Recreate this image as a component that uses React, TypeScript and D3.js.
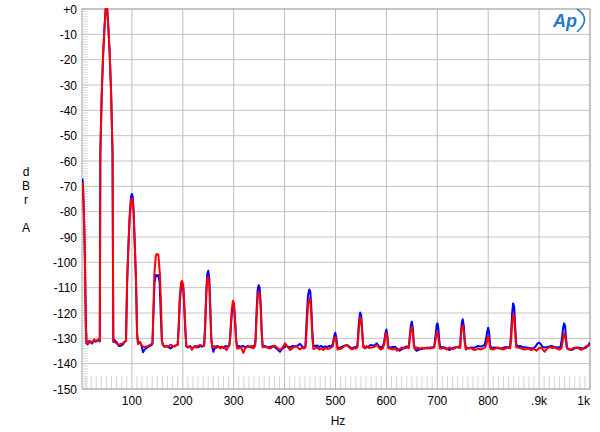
import React from "react";
import * as d3 from "d3";

const W = 600;
const H = 432;

const yTicks = [0, -10, -20, -30, -40, -50, -60, -70, -80, -90, -100, -110, -120, -130, -140, -150];
const yTickLabels = ["+0", "-10", "-20", "-30", "-40", "-50", "-60", "-70", "-80", "-90", "-100", "-110", "-120", "-130", "-140", "-150"];
const xTicks = [100, 200, 300, 400, 500, 600, 700, 800, 900, 1000];
const xTickLabels = ["100", "200", "300", "400", "500", "600", "700", "800", ".9k", "1k"];
const yLabelLetters = ["d", "B", "r", "", "A"];

const blueSeries: [number, number][] = [
  [3,-67],[4,-70],[5,-76],[6.5,-86],[8,-102],[9.5,-124],[11,-132],
  [13,-132.4],[16,-131.5],[19,-131.6],[22,-132],[26,-130.8],[29,-131.3],[32,-131],[35,-130.6],[37,-131.2],
  [38,-57],[40.7,-34],[43.5,-18],[46,-8],[48.5,0],[51.5,0],[54,-8],[56.5,-18],[59.3,-34],[62,-57],
  [63.5,-131.4],[66,-130.7],[70,-131.5],[74,-133],[78,-133],[82,-132.5],[86,-131.3],[88,-131],
  [88.5,-131],[90.6,-108],[93.5,-92],[95.8,-81],[98.4,-74],[100,-73],[101.6,-74],[103.5,-80],[105.5,-92],[108.2,-108],[110.2,-128],[112,-132],
  [116,-131.5],[119,-133],[122,-135.5],[125,-134.4],[128,-134],[132,-133.4],[136,-133],[139,-132.6],
  [140.5,-132],[142,-122],[144.5,-108],[147,-105],[149,-105.5],[152,-105],[154.5,-108],[157,-122],[159,-131],[161,-132.6],
  [164,-133.4],[168,-133],[172,-133.6],[176,-134],[180,-133.2],[184,-133],[187,-132.8],
  [190,-132.5],[192,-126],[194,-116],[196.5,-110],[198.5,-109],[201,-110.5],[203,-118],[205,-127],[207,-133.2],
  [210,-133.6],[214,-133],[218,-134],[222,-133.4],[226,-133],[230,-133.6],[234,-133],[238,-133.3],
  [242,-132.5],[244,-124],[246,-112],[248,-104.5],[250,-103.3],[252,-106],[254,-117],[256,-130],[258,-133.5],
  [260,-135.3],[264,-133.4],[268,-133],[272,-133.6],[276,-133.3],[280,-133.8],[284,-133],[288,-133.4],[291,-133],
  [293,-130],[295,-124],[297,-118.5],[299,-116.9],[301,-118],[303,-124],[305,-131],[307,-133.4],
  [310,-133],[314,-133.3],[319,-133],[323,-133.6],[327,-133],[331,-133.3],[335,-133.6],[339,-133],[342,-132.6],
  [343,-130],[345,-119],[347,-111],[349,-109],[351,-110],[353,-116],[355,-127],[357,-133.3],
  [361,-133],[366,-133.6],[372,-133.3],[378,-133],[384,-134],[391,-135.3],[396,-134],[401,-133.4],[404,-133],[410,-133.6],[416,-133],[422,-133.3],[426,-132.8],[430,-132.2],[434,-133],[438,-134],[441,-133],
  [442,-128],[444,-120],[446,-113],[448.5,-110.7],[450.5,-111.5],[452.5,-118],[454.5,-127],[456.5,-133],
  [460,-133],[464,-132.8],[468,-133.4],[472,-133],[476,-133.6],[480,-133.2],[484,-133.4],[488,-133],[492,-133.2],
  [495,-132],[497.5,-129],[499.5,-127.8],[501.5,-129.5],[504,-133.6],
  [508,-133.8],[512,-133.4],[517,-133],[522,-132.6],[527,-133.2],[532,-134],[536,-133.6],[540,-133.4],[543,-133],
  [544,-130],[546,-123.5],[548.5,-119.8],[550.5,-121],[552.5,-127],[554.5,-133],
  [558,-133.4],[562,-133.6],[566,-133],[570,-132.6],[575,-133],[581,-132],[585,-133],[589,-133.6],[593,-133.3],
  [596,-131],[598,-128],[600,-126.5],[602,-129],[604,-133.5],
  [608,-133.6],[612,-133.4],[617,-133.3],[621,-134],[626,-134.9],[630,-134.4],[635,-133.6],[640,-133.2],[644,-133.6],
  [646,-129],[648,-125],[650,-123.4],[652,-126],[654,-132],[656,-134],
  [659,-134.9],[664,-134.4],[668,-134.2],[672,-134],[677,-133.8],[682,-134],[686,-133.6],[690,-133.6],[694,-133.4],
  [697,-128],[699,-124.5],[700.5,-124.1],[702,-126],[704,-131],[706,-133.6],
  [710,-133.4],[714,-133.6],[718,-134],[724,-134.6],[729,-134],[734,-133.6],[738,-133.4],[742,-133.6],[745,-133.2],
  [746,-129],[748,-124],[750,-122.5],[752,-125],[754,-131],[756,-133.6],
  [760,-133.8],[764,-134],[768,-133.6],[772,-133.8],[776,-133.4],[780,-133],[785,-133.2],[789,-133],[793,-132.6],
  [796,-130],[798,-127.5],[800,-125.8],[802,-128],[804,-133],
  [808,-133.8],[813,-133.6],[818,-133.8],[822,-134],[826,-134],[831,-133.6],[836,-133.4],[840,-133.6],[843,-133.2],
  [845,-128],[847,-120],[849,-116.2],[851,-117.5],[853,-125],[855,-132],[857,-133.2],
  [862,-133],[868,-133.4],[875,-133.6],[881,-133.8],[888,-134],[893,-133.2],[897,-132],[900,-131.7],[903,-132.2],[907,-133.4],[911,-133.6],[916,-133.4],[920,-133.2],[924,-133],[930,-133.4],[937,-133.6],[942,-133.4],
  [945,-130],[947,-126],[949,-124.1],[951,-125],[953,-130],[955,-134],
  [959,-134.4],[963,-134.6],[968,-134.2],[972,-133.8],[976,-133.6],[981,-133.8],[985,-134],[989,-134],[993,-133.6],[997,-132.6],[1000,-131.7],
];

const redSeries: [number, number][] = [
  [3,-68.5],[4,-71],[5,-77],[6.5,-87],[8,-103],[9.5,-125],[11,-132],
  [13,-132],[16,-131],[19,-131.2],[22,-131.7],[26,-130.4],[29,-131],[32,-130.7],[35,-130.2],[37,-131],
  [38,-57],[40.7,-34],[43.5,-18],[46,-8],[48.5,0],[51.5,0],[54,-8],[56.5,-18],[59.3,-34],[62,-57],
  [63.5,-131],[66,-131.5],[70,-132],[74,-132.6],[78,-132.2],[82,-132],[86,-131.3],[88,-131],
  [88.5,-131],[90.6,-108],[93.5,-92],[95.8,-82],[98.4,-75.5],[100,-74.8],[101.6,-75.2],[103.5,-81],[105.5,-92],[108.2,-108],[110.2,-128],[112,-132.2],
  [116,-131.6],[120,-133],[124,-133.5],[128,-133.2],[132,-133],[136,-132.6],[139,-132],
  [140.5,-132],[141.5,-125],[144,-105],[147,-97.5],[149,-96.7],[152,-97],[155,-104.5],[157.5,-118],[159,-131],[161,-132.6],
  [164,-133.2],[168,-133],[172,-133.3],[176,-132.5],[180,-133],[184,-133.2],[187,-132.6],
  [190,-132.5],[192,-125],[194,-114],[196.5,-108],[198.5,-107.3],[201,-109],[203,-117],[205,-126],[207,-133],
  [210,-133.3],[214,-133.2],[218,-134.5],[222,-133.2],[226,-133.6],[230,-133],[234,-132.6],[238,-133],
  [242,-133],[244,-126],[246,-114],[248,-106.5],[250,-105.7],[252,-109],[254,-120],[256,-131],[258,-133.5],
  [262,-133],[266,-133.8],[270,-133.2],[274,-134],[278,-133.4],[282,-133.8],[286,-134.6],[290,-133],
  [292,-132.6],[294,-126],[296,-119],[298.5,-115.2],[300.5,-116],[302.5,-122],[304.5,-130],[306.5,-134],
  [310,-134],[314,-133.5],[319,-135.7],[323,-133.8],[327,-133.2],[331,-133.4],[335,-133],[339,-134],[342,-133],
  [343,-131],[345,-122],[347,-114],[349,-111.6],[351,-112],[353,-118],[355,-128],[357,-133.5],
  [361,-133.3],[366,-133.6],[372,-134],[377,-133.2],[381,-132.9],[386,-133.8],[391,-134.6],[396,-133.6],[401,-132],[406,-133.4],[411,-134.6],[416,-133.8],[421,-133],[426,-133.6],[430,-134.4],[434,-133.6],[438,-134],[441,-133.5],
  [442,-131],[444,-124],[446,-117],[448.5,-114.2],[450.5,-115],[452.5,-121],[454.5,-130],[456.5,-134.2],
  [460,-134],[464,-133.6],[468,-134.4],[472,-134],[476,-134.6],[480,-133.8],[484,-134.2],[488,-134],[492,-133.6],
  [495,-133],[497.5,-130],[499.5,-129.4],[501.5,-131],[504,-134.4],
  [508,-134.2],[512,-134],[517,-133.2],[522,-132.6],[527,-133.6],[532,-134.4],[536,-134],[540,-134],[543,-133.6],
  [544,-131.5],[546,-126],[548.5,-121.7],[550.5,-122.5],[552.5,-128],[554.5,-133.5],
  [558,-134],[561,-133],[566,-133.8],[571,-133.6],[576,-133.4],[581,-132.6],[585,-133.6],[589,-134.4],[593,-134],
  [596,-132],[598,-129],[600,-127.8],[602,-130],[604,-134],
  [608,-134],[613,-134.4],[617,-134],[621,-134.9],[625,-134.4],[630,-133.6],[635,-134],[640,-133.6],[644,-133.8],
  [646,-130],[648,-126.5],[650,-125.4],[652,-128],[654,-133],[656,-134.4],
  [660,-133.6],[665,-134],[670,-133.8],[675,-134],[680,-133.6],[685,-134],[690,-133.8],[694,-133.6],
  [697,-130],[699,-127.4],[701,-128],[703,-131],[705,-134],
  [709,-134],[714,-133.8],[718,-134.4],[724,-133.6],[729,-134.2],[734,-134],[738,-133.4],[742,-133.2],[745,-133.8],
  [746,-130],[748,-126],[750,-124.8],[752,-127],[754,-132],[756,-134.4],
  [760,-134],[765,-133.6],[770,-134.4],[775,-134.6],[780,-134],[785,-134.4],[790,-134],[794,-133.6],
  [797,-132],[799,-129.5],[800.5,-129.1],[802,-131],[804,-134],
  [809,-134.4],[814,-134],[819,-133.6],[824,-134],[829,-134.4],[834,-134],[839,-133.6],[843,-134],
  [845,-131],[847,-124],[849,-120.4],[851,-121.5],[853,-128],[855,-133.5],
  [859,-133.6],[865,-134],[872,-134.4],[878,-134],[885,-134.6],[890,-134.2],[895,-134.9],[900,-133.8],[904,-133.6],[908,-134.6],[911,-135.3],[916,-134],[921,-133.4],[926,-133.8],[930,-133.6],[935,-134],[940,-134.4],[944,-134],
  [946,-131.5],[948,-129],[950,-128],[952,-130],[954,-133.5],
  [958,-134.2],[963,-134.4],[968,-133.8],[973,-133.6],[978,-134],[983,-134.6],[988,-133.8],[993,-133],[998,-132.8],[1000,-132.6],
];

const X0 = 82, X1 = 590, Y0 = 9, Y1 = 389;

export default function App() {
  const x = d3.scaleLinear().domain([2, 1000]).range([X0, X1]);
  const y = d3.scaleLinear().domain([0, -150]).range([Y0, Y1]);
  const line = d3.line<[number, number]>().x(d => x(d[0])).y(d => y(d[1]));

  const minorY = d3.range(-150, 0.5, 1);
  const minorX = d3.range(10, 1000, 10).filter(v => v % 100 !== 0);
  const font = "Arial, 'Liberation Sans', Helvetica, sans-serif";

  return (
    <svg width={W} height={H} style={{ position: "absolute", left: 0, top: 0, background: "#fff" }} fontFamily={font}>
      <defs>
        <clipPath id="plotClip">
          <rect x={X0} y={Y0 - 2} width={X1 - X0} height={Y1 - Y0 + 2} />
        </clipPath>
      </defs>
      <rect x={0} y={0} width={W} height={H} fill="#fff" />
      {minorY.map(v => (
        <line key={"my" + v} x1={X0} x2={X0 + 6} y1={y(v)} y2={y(v)} stroke="#d0d0d0" strokeWidth={0.8} />
      ))}
      {minorX.map(v => (
        <line key={"mx" + v} x1={x(v)} x2={x(v)} y1={y(-145)} y2={Y1} stroke="#c8c8c8" strokeWidth={0.8} />
      ))}
      {yTicks.map(v => (
        <line key={"gy" + v} x1={X0} x2={X1} y1={y(v)} y2={y(v)} stroke="#c4c4c4" strokeWidth={1} />
      ))}
      {xTicks.map(v => (
        <line key={"gx" + v} x1={x(v)} x2={x(v)} y1={Y0} y2={Y1} stroke="#bcbcbc" strokeWidth={1} />
      ))}
      <rect x={X0} y={Y0} width={X1 - X0} height={Y1 - Y0} fill="none" stroke="#a8a8a8" strokeWidth={1} />

      <g clipPath="url(#plotClip)" fill="none" strokeLinejoin="round">
        <path d={line(blueSeries) || ""} stroke="#0000ff" strokeWidth={2} />
        <path d={line(redSeries) || ""} stroke="#ff0000" strokeWidth={2} />
      </g>

      {yTicks.map((v, i) => (
        <text key={"ly" + v} x={77} y={y(v) + 4.5} textAnchor="end" fontSize={12} fill="#000">
          {yTickLabels[i]}
        </text>
      ))}
      {xTicks.map((v, i) => (
        <text key={"lx" + v} x={v === 1000 ? x(v) : x(v)} y={405} textAnchor={v === 1000 ? "end" : "middle"} fontSize={12} fill="#000">
          {xTickLabels[i]}
        </text>
      ))}
      <text x={338} y={425} textAnchor="middle" fontSize={12} fill="#000">Hz</text>
      {yLabelLetters.map((c, i) => (
        <text key={"yl" + i} x={26} y={176 + i * 14} textAnchor="middle" fontSize={12} fill="#000">{c}</text>
      ))}

      <g>
        <text x={565} y={27} textAnchor="middle" fontSize={18} fontStyle="italic" fontWeight="bold" fill="#2a78cc" fontFamily="Arial, 'Liberation Sans', sans-serif">Ap</text>
        <path d="M577,9 Q592,19 577,32" fill="none" stroke="#2a78cc" strokeWidth={1.6} />
      </g>
    </svg>
  );
}
